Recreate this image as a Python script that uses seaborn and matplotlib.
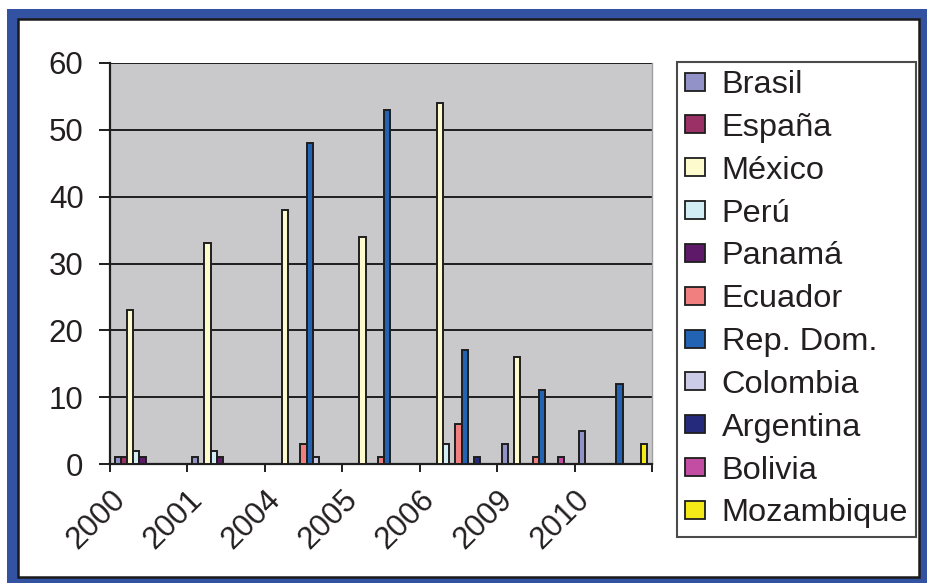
import matplotlib
matplotlib.use("Agg")
import matplotlib.pyplot as plt
from matplotlib.patches import Rectangle
from matplotlib.transforms import ScaledTranslation
import numpy as np
import pandas as pd
import seaborn as sns

years = ["2000", "2001", "2004", "2005", "2006", "2009", "2010"]
countries = ["Brasil", "España", "México", "Perú", "Panamá", "Ecuador",
             "Rep. Dom.", "Colombia", "Argentina", "Bolivia", "Mozambique"]

# values per country, one entry per year
brasil     = [1, 1, 0, 0, 0, 3, 5]
espana     = [1, 0, 0, 0, 0, 0, 0]
mexico     = [23, 33, 38, 34, 54, 16, 0]
peru       = [2, 2, 0, 0, 3, 0, 0]
panama     = [1, 1, 0, 0, 0, 0, 0]
ecuador    = [0, 0, 3, 1, 6, 1, 0]
rep_dom    = [0, 0, 48, 53, 17, 11, 12]
colombia   = [0, 0, 1, 0, 0, 0, 0]
argentina  = [0, 0, 0, 0, 1, 0, 0]
bolivia    = [0, 0, 0, 0, 0, 1, 0]
mozambique = [0, 0, 0, 0, 0, 0, 3]

colors = ["#9292c8", "#9a3066", "#fdfbcd", "#d2eef4", "#5e1a68", "#f27f80",
          "#2264b3", "#cbcbe8", "#262a7c", "#c24da2", "#f3ea17"]

series = [brasil, espana, mexico, peru, panama, ecuador, rep_dom,
          colombia, argentina, bolivia, mozambique]
rows = []
for name, vals in zip(countries, series):
    for yr, v in zip(years, vals):
        rows.append({"year": yr, "country": name, "value": v})
df = pd.DataFrame(rows)

sns.set_style("white")
plt.rcParams["font.family"] = ["Liberation Sans", "DejaVu Sans"]
text_color = "#231f20"
FS = 22.5
LEG_FS = 23.4

W, H = 927, 583
fig = plt.figure(figsize=(W / 100, H / 100), dpi=100)
fig.patch.set_facecolor("white")

# blue outer frame with a thin dark inner border
fig.patches.append(Rectangle((7 / W, 0), 1, 1 - 9 / H, transform=fig.transFigure,
                             facecolor="#3452a2", edgecolor="none", zorder=-3))
fig.patches.append(Rectangle((18 / W, 1 - 577 / H), (919 - 18) / W, (577 - 19) / H,
                             transform=fig.transFigure, facecolor="white",
                             edgecolor="#1a1a1a", linewidth=1.8, zorder=-2))

ax = fig.add_axes([110 / W, 1 - 464 / H, (652 - 110) / W, (464 - 63) / H])
ax.set_facecolor("#c9c9cb")

sns.barplot(data=df, x="year", y="value", hue="country", order=years,
            hue_order=countries, palette=colors, width=0.88, errorbar=None,
            edgecolor="#1e1e1e", linewidth=1.4, saturation=1, ax=ax, zorder=3)

ax.set_xlim(-0.5, len(years) - 0.5)
ax.set_ylim(0, 60)
ax.set_yticks(np.arange(0, 61, 10))
ax.yaxis.grid(True, color="#1e1e1e", linewidth=1.4, zorder=1)
ax.set_axisbelow(True)
ax.set_xlabel("")
ax.set_ylabel("")

for side in ["left", "bottom"]:
    ax.spines[side].set_color("#1e1e1e")
    ax.spines[side].set_linewidth(1.6)
ax.spines["top"].set_visible(False)
ax.spines["right"].set_color("#a0a0a0")
ax.spines["right"].set_linewidth(1.0)

ax.tick_params(axis="y", which="major", left=True, length=8, width=1.4,
               color="#1e1e1e", labelsize=FS, labelcolor=text_color, pad=11)

# category ticks sit between groups; labels are centred under each group
ax.set_xticks(np.arange(len(years) + 1) - 0.5, minor=True)
ax.tick_params(axis="x", which="minor", bottom=True, length=6, width=1.4,
               color="#1e1e1e")
ax.set_xticks(np.arange(len(years)))
ax.set_xticklabels(years)
ax.tick_params(axis="x", which="major", bottom=False, length=0,
               labelsize=FS, labelcolor=text_color, pad=22.5)
offset = ScaledTranslation(-0.28, 0, fig.dpi_scale_trans)
for lab in ax.get_xticklabels():
    lab.set_rotation(45)
    lab.set_rotation_mode("anchor")
    lab.set_ha("right")
    lab.set_va("center")
    lab.set_transform(lab.get_transform() + offset)

ax.get_legend().remove()
handles = [Rectangle((0, 0), 1, 1, facecolor=c, edgecolor="#1e1e1e", linewidth=1.3)
           for c in colors]
leg = fig.legend(handles, countries, loc="upper left",
                 bbox_to_anchor=(677 / W, 1 - 62 / H), borderaxespad=0,
                 fontsize=LEG_FS, frameon=True, fancybox=False, shadow=False,
                 handlelength=0.62, handleheight=0.48, handletextpad=0.5,
                 labelspacing=0.395, borderpad=0.25)
leg.get_frame().set_edgecolor("#1e1e1e")
leg.get_frame().set_linewidth(1.5)
for t in leg.get_texts():
    t.set_color(text_color)

fig.savefig("out.png", dpi=100)
